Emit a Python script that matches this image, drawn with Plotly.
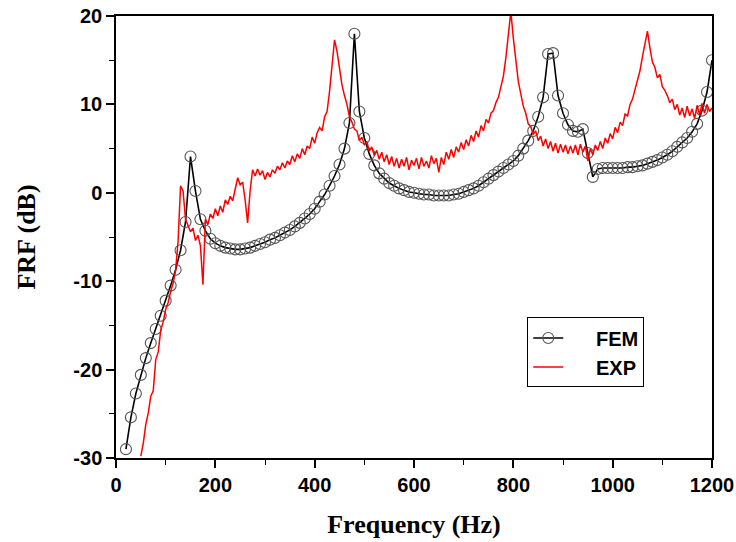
import plotly.graph_objects as go

# ---------------- data ----------------
fem_freq = list(range(20, 1201, 10))
fem_db = [
    -29.0, -25.4, -22.7, -20.6, -18.7, -17.0, -15.4, -13.9, -12.2, -10.5,
    -8.7, -6.5, -3.3, 4.1, 0.2, -3.0, -4.3, -5.2, -5.7, -6.0,
    -6.2, -6.3, -6.4, -6.4, -6.3, -6.2, -6.0, -5.8, -5.6, -5.3,
    -5.1, -4.8, -4.5, -4.2, -3.8, -3.4, -2.9, -2.4, -1.8, -1.0,
    -0.2, 0.8, 1.9, 3.2, 5.0, 7.9, 18.0, 9.2, 6.2, 4.4,
    3.1, 2.2, 1.6, 1.1, 0.8, 0.5, 0.3, 0.1, 0.0, -0.1,
    -0.2, -0.2, -0.3, -0.3, -0.3, -0.3, -0.2, -0.1, 0.1, 0.3,
    0.5, 0.8, 1.2, 1.6, 2.0, 2.4, 2.8, 3.2, 3.6, 4.2,
    5.0, 5.9, 7.0, 8.6, 10.8, 15.7, 15.8, 11.0, 9.0, 7.7,
    7.0, 6.9, 7.2, 4.5, 1.8, 2.7, 2.8, 2.8, 2.8, 2.8,
    2.8, 2.9, 2.9, 3.0, 3.1, 3.3, 3.5, 3.7, 4.0, 4.3,
    4.7, 5.2, 5.7, 6.2, 6.9, 7.8, 9.3, 11.4, 15.0,
]

exp_freq = list(range(50, 1201, 5))
exp_db = [
    -29.8, -28.3, -26.2, -24.9, -23.0, -22.4, -18.9, -18.0, -15.6, -14.6,   # 50-95
    -13.2, -12.4, -11.2, -10.2, -8.8, -5.5, 0.8, 0.2, -3.0, -3.8,          # 100-145
    -4.4, -4.0, -5.4, -4.8, -6.0, -10.4, -3.0, -3.6, -2.4, -2.9,           # 150-195
    -1.8, -2.6, -1.5, -2.2, -0.8, -1.3, -0.4, -0.9, 0.6, 1.7,              # 200-245
    0.9, 1.2, -0.8, -3.4, 0.2, 2.6, 1.9, 2.7, 2.0, 2.5,                    # 250-295
    1.5, 2.3, 1.8, 2.6, 2.2, 3.0, 2.6, 3.4, 2.8, 3.6,                      # 300-345
    3.2, 4.2, 3.5, 4.4, 3.9, 5.0, 4.3, 5.3, 5.0, 6.3,                      # 350-395
    5.6, 6.8, 7.4, 7.0, 8.6, 9.2, 11.5, 14.2, 17.3, 16.0,                  # 400-445
    14.0, 12.2, 11.0, 10.0, 8.6, 8.0, 7.2, 7.0, 5.9, 6.3,                  # 450-495
    5.4, 5.8, 4.7, 5.2, 4.2, 4.8, 3.8, 4.6, 3.5, 4.3,                      # 500-545
    3.2, 4.1, 3.0, 3.9, 2.8, 3.8, 3.0, 4.0, 2.6, 3.7,                      # 550-595
    3.1, 3.9, 2.7, 4.0, 3.0, 3.6, 2.8, 4.2, 3.3, 3.9,                      # 600-645
    2.3, 4.0, 3.2, 4.6, 3.8, 4.9, 4.0, 5.2, 4.6, 5.7,                      # 650-695
    4.9, 6.0, 5.3, 6.5, 5.8, 7.0, 6.3, 7.6, 7.0, 8.3,                      # 700-745
    7.9, 9.0, 9.3, 10.2, 10.8, 12.2, 13.2, 15.3, 18.0, 20.5,               # 750-795
    17.5, 14.8, 12.6, 11.2, 9.8, 9.0, 7.8, 7.5, 6.6, 7.0,                  # 800-845
    5.9, 6.4, 5.3, 6.1, 5.0, 5.8, 4.7, 5.6, 4.5, 5.5,                      # 850-895
    4.6, 5.4, 4.4, 5.3, 4.5, 5.4, 4.3, 5.5, 4.6, 5.3,                      # 900-945
    3.6, 5.0, 4.3, 5.4, 4.8, 5.8, 5.0, 6.2, 5.6, 6.7,                      # 950-995
    6.1, 7.4, 6.8, 8.0, 7.6, 8.9, 8.7, 10.0, 10.6, 11.7,                   # 1000-1045
    12.8, 13.8, 15.4, 16.8, 18.3, 16.4, 14.8, 14.2, 13.0, 13.4,            # 1050-1095
    12.0, 11.6, 11.0, 10.2, 10.6, 9.4, 10.0, 8.8, 9.6, 8.5,                # 1100-1145
    9.8, 8.7, 9.5, 8.4, 9.9, 8.8, 10.1, 9.0, 10.0, 9.2,                    # 1150-1195
    9.6,                                                                   # 1200
]

x_ticks = [0, 200, 400, 600, 800, 1000, 1200]
y_ticks = [-30, -20, -10, 0, 10, 20]
series_names = ["\u00a0\u00a0\u00a0\u00a0\u00a0FEM", "\u00a0\u00a0\u00a0\u00a0\u00a0EXP"]

# ---------------- figure ----------------
fig = go.Figure()
fig.add_trace(go.Scatter(
    x=fem_freq, y=fem_db, name=series_names[0], mode="lines+markers",
    line=dict(color="black", width=1.6),
    marker=dict(symbol="circle-open", size=11, color="#555555",
                line=dict(width=1.1, color="#555555")),
))
fig.add_trace(go.Scatter(
    x=exp_freq, y=exp_db, name=series_names[1], mode="lines",
    line=dict(color="#ff0000", width=1.5),
))

tick_font = dict(family="Liberation Sans, Arial", size=20, color="black", weight="bold")
title_font = dict(family="Liberation Serif, Times New Roman", size=26, color="black", weight="bold")

fig.update_xaxes(
    range=[0, 1200], tickvals=x_ticks, ticktext=[str(v) for v in x_ticks],
    showline=True, linecolor="black", linewidth=1.5, mirror=True,
    ticks="outside", ticklen=8, tickwidth=1.5, tickcolor="black",
    minor=dict(dtick=100, tick0=0, ticks="outside", ticklen=5, tickwidth=1.2,
               tickcolor="black", showgrid=False),
    showgrid=False, zeroline=False, tickfont=tick_font, automargin=False,
    ticklabeloverflow="allow",
    title=dict(text="Frequency (Hz)", font=title_font, standoff=20),
)
fig.update_yaxes(
    range=[-30, 20], tickvals=y_ticks, ticktext=[str(v) for v in y_ticks],
    showline=True, linecolor="black", linewidth=1.5, mirror=True,
    ticks="outside", ticklen=8, tickwidth=1.5, tickcolor="black",
    minor=dict(dtick=5, tick0=0, ticks="outside", ticklen=5, tickwidth=1.2,
               tickcolor="black", showgrid=False),
    showgrid=False, zeroline=False, tickfont=tick_font, automargin=False,
    ticklabeloverflow="allow",
    title=dict(text="FRF (dB)", font=title_font, standoff=30),
)

fig.update_layout(
    width=736, height=542,
    margin=dict(l=116, r=24, t=16, b=84),
    paper_bgcolor="white", plot_bgcolor="white",
    showlegend=True,
    legend=dict(
        x=0.69, y=0.318, xanchor="left", yanchor="top",
        bgcolor="white", bordercolor="black", borderwidth=1,
        font=dict(family="Liberation Sans, Arial", size=20, color="black", weight="bold"),
        tracegroupgap=0,
    ),
)

# remove the browser's default page margin so the figure fills the window
fig.write_html(
    "out.html",
    config={"displayModeBar": False},
    post_script="document.body.style.margin='0';document.body.style.overflow='hidden';",
)
